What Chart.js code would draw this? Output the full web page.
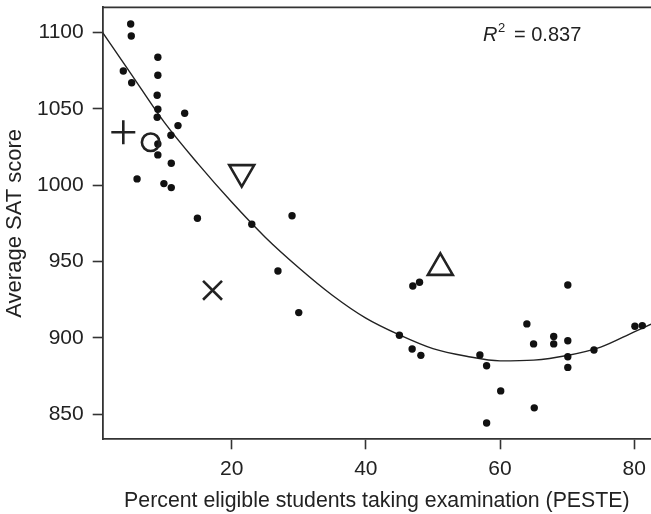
<!DOCTYPE html>
<html>
<head>
<meta charset="utf-8">
<script src="https://cdn.jsdelivr.net/npm/chart.js@4.4.1/dist/chart.umd.min.js"></script>
<style>
  html, body { margin: 0; padding: 0; background: #fff; }
  #wrap { width: 651px; height: 514px; }
</style>
</head>
<body>
<div id="wrap"><canvas id="sat" width="651" height="514"></canvas></div>
<script>
// State averages: percent of eligible students taking the SAT vs. mean score
const pesteX = [
  4.95, 5.04, 9.0, 3.85, 9.0, 5.1, 8.9, 9.0, 13.0, 8.9, 12.0, 10.95, 9.0, 9.0, 11.0,
  5.9, 9.9, 11.0, 14.9, 23.0, 29.0, 26.9, 30.0, 47.0, 48.0, 70.1, 45.0, 64.0, 68.0,
  70.1, 65.0, 68.0, 80.1, 81.2, 46.9, 48.2, 74.0, 57.0, 70.1, 58.0, 70.1, 60.1, 65.1, 58.0
];
const satY = [
  1105.7, 1097.8, 1083.9, 1074.9, 1072.1, 1067.2, 1059.0, 1049.8, 1047.2, 1044.6, 1039.1, 1032.8, 1027.1, 1019.9, 1014.4,
  1004.2, 1001.1, 998.5, 978.4, 974.5, 980.0, 943.9, 916.6, 934.0, 936.5, 934.7, 901.8, 909.2, 900.9,
  898.2, 896.1, 896.1, 907.7, 908.1, 892.8, 888.6, 892.1, 888.8, 887.7, 881.8, 880.7, 865.3, 854.2, 844.3
];

// Highlighted states (plus, circle, down triangle, cross, up triangle)
const markX = [3.85, 7.93, 21.5, 17.15, 51.1];
const markY = [1034.7, 1028.2, 1008.5, 931.2, 946.0];

// Quadratic fit
const fitX = [0.78, 5, 10, 15, 20, 25, 30, 35, 40, 45, 50, 55, 60, 65, 70, 75, 80, 82.5];
const fitY = [1100, 1073, 1041, 1014, 989, 966, 946, 928, 913, 902, 893, 888, 885, 885.5, 888.5, 894, 904, 909];

const xTicks = [20, 40, 60, 80];
const yTicks = [850, 900, 950, 1000, 1050, 1100];
const rSquared = '0.837';

const FONT = '"Liberation Sans", Arial, Helvetica, sans-serif';
const INK = '#222';
const AXIS = '#333';

const toPoints = (xs, ys) => xs.map((x, i) => ({ x, y: ys[i] }));

// no extra edge padding for end labels, so the plot box sits where we put it
const noEdgePadding = (scale) => {
  for (const side of ['Left', 'Right', 'Top', 'Bottom']) scale['padding' + side] = 0;
};

// frame top edge and the R^2 annotation
const extras = {
  id: 'extras',
  afterDraw(chart) {
    const { ctx, chartArea } = chart;
    ctx.save();
    ctx.strokeStyle = AXIS;
    ctx.lineWidth = 1.8;
    ctx.beginPath();
    ctx.moveTo(chartArea.left, chartArea.top);
    ctx.lineTo(chartArea.right, chartArea.top);
    ctx.stroke();

    ctx.fillStyle = INK;
    ctx.textBaseline = 'alphabetic';
    ctx.font = 'italic 20px ' + FONT;
    ctx.fillText('R', 483, 40.5);
    ctx.font = '13px ' + FONT;
    ctx.fillText('2', 498, 32);
    ctx.font = '20px ' + FONT;
    ctx.fillText('= ' + rSquared, 514, 40.5);
    ctx.restore();
  }
};

new Chart(document.getElementById('sat'), {
  type: 'scatter',
  data: {
    datasets: [
      {
        type: 'line',
        data: toPoints(fitX, fitY),
        borderColor: INK,
        borderWidth: 1.4,
        pointRadius: 0,
        fill: false,
        cubicInterpolationMode: 'monotone',
        order: 3
      },
      {
        data: toPoints(pesteX, satY),
        pointRadius: 3.7,
        backgroundColor: '#111',
        borderWidth: 0,
        order: 2
      },
      {
        data: toPoints(markX, markY),
        pointStyle: ['cross', 'circle', 'triangle', 'crossRot', 'triangle'],
        rotation: [0, 0, 180, 0, 0],
        pointRadius: [12, 8.8, 14.4, 13.4, 14.4],
        borderWidth: 2.6,
        borderColor: INK,
        backgroundColor: 'rgba(0,0,0,0)',
        order: 1
      }
    ]
  },
  options: {
    responsive: false,
    animation: false,
    events: [],
    layout: { autoPadding: false, padding: { top: 7.3, right: 0, left: 0, bottom: 0 } },
    plugins: {
      legend: { display: false },
      tooltip: { enabled: false }
    },
    scales: {
      x: {
        type: 'linear',
        min: 0.78,
        max: 82.5,
        afterBuildTicks: (scale) => { scale.ticks = xTicks.map(v => ({ value: v })); },
        afterFit: (scale) => { scale.height = 74.7; noEdgePadding(scale); },
        grid: { drawOnChartArea: false, tickLength: 10, tickColor: AXIS, tickWidth: 1.6 },
        border: { display: true, color: AXIS, width: 1.8 },
        ticks: { font: { family: FONT, size: 21 }, color: INK, padding: 7, maxRotation: 0 },
        title: {
          display: true,
          text: 'Percent eligible students taking examination (PESTE)',
          font: { family: FONT, size: 21.3 },
          color: INK,
          padding: { top: 0, bottom: 0 }
        }
      },
      y: {
        type: 'linear',
        min: 833.6,
        max: 1116.6,
        afterBuildTicks: (scale) => { scale.ticks = yTicks.map(v => ({ value: v })); },
        afterFit: (scale) => { scale.width = 102.7; noEdgePadding(scale); },
        grid: { drawOnChartArea: false, tickLength: 10, tickColor: AXIS, tickWidth: 1.6 },
        border: { display: true, color: AXIS, width: 1.8 },
        ticks: {
          font: { family: FONT, size: 21 },
          color: INK,
          padding: 9,
          callback: (v) => String(v)
        },
        title: {
          display: true,
          text: 'Average SAT score',
          font: { family: FONT, size: 22 },
          color: INK,
          padding: { top: 2, bottom: 0 }
        }
      }
    }
  },
  plugins: [extras]
});
</script>
</body>
</html>
